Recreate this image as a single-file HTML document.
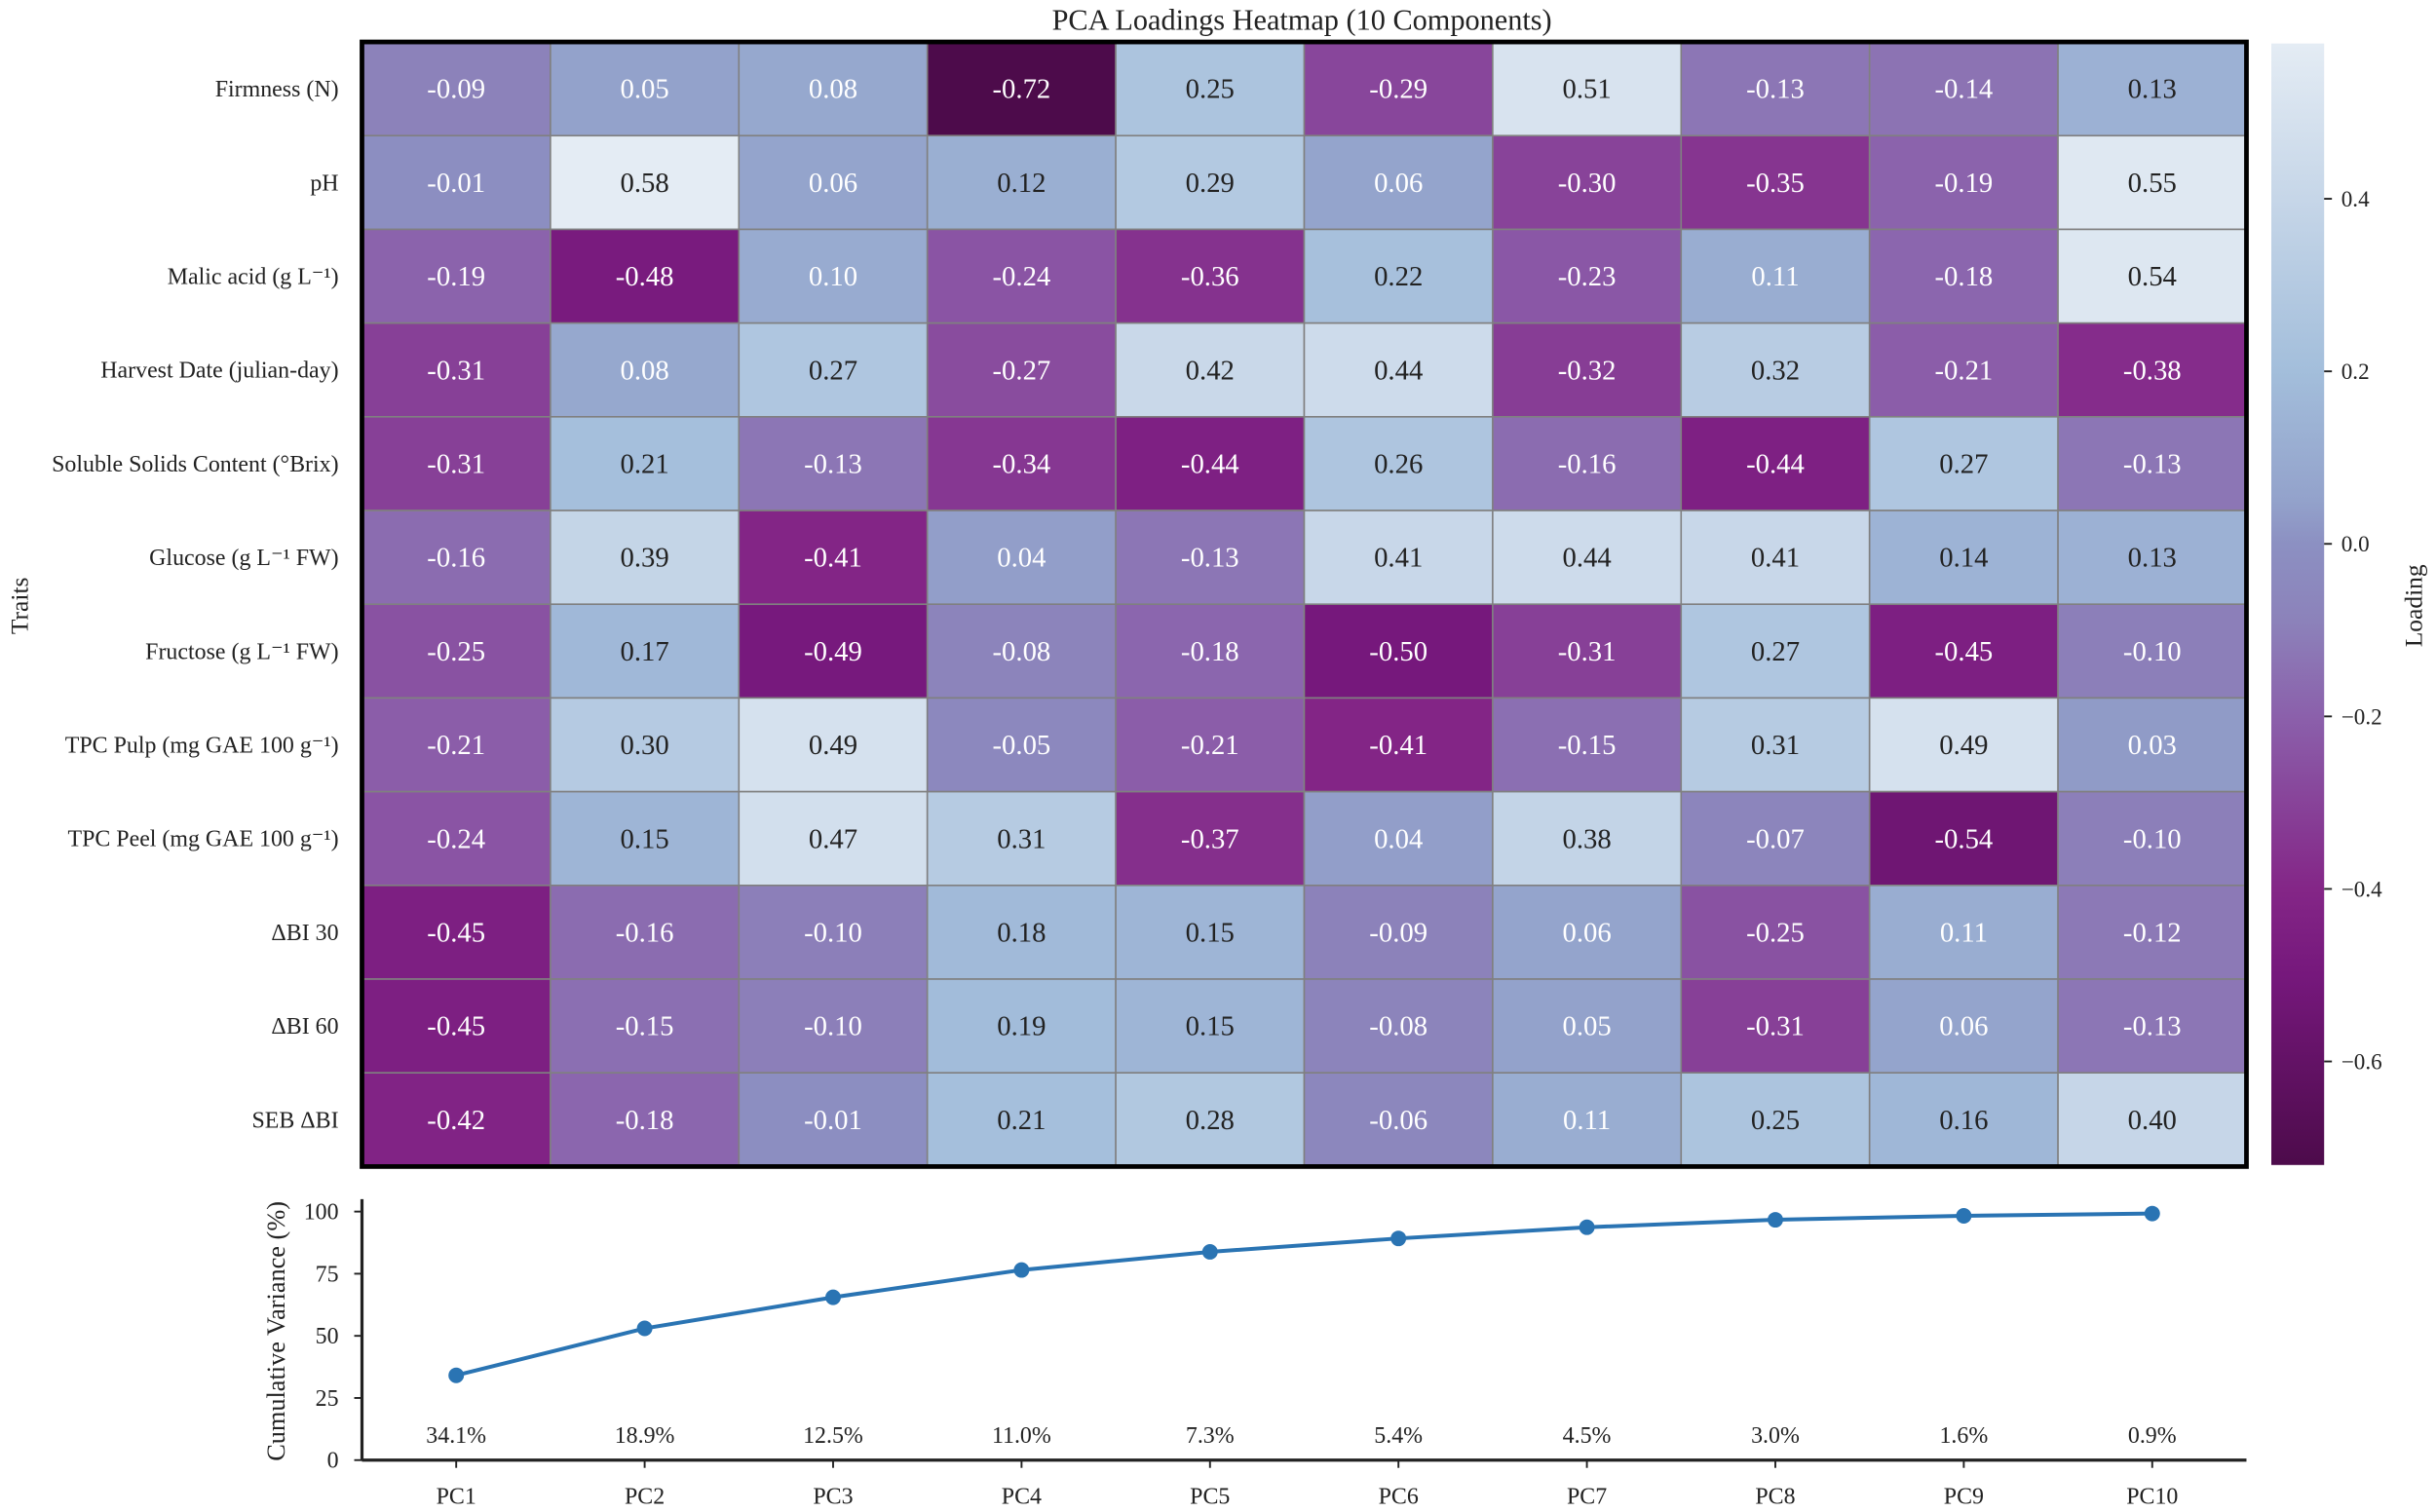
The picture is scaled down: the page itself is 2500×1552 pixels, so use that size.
<!DOCTYPE html>
<html><head><meta charset="utf-8"><style>
html,body{margin:0;padding:0;background:#fff;}
svg{display:block;font-family:"Liberation Serif",serif;}
</style></head><body>
<svg id="fig" width="2500" height="1552" viewBox="0 0 1568 973.4" xmlns="http://www.w3.org/2000/svg">
<rect width="1568" height="974" fill="#fff"/>
<text x="838" y="19" text-anchor="middle" font-size="19" fill="#222">PCA Loadings Heatmap (10 Components)</text>
<g id="heat"></g>
<g id="cbar"></g>
<g id="line"></g>
</svg>
<script>
const traits=["Firmness (N)","pH","Malic acid (g L\u207B\u00B9)","Harvest Date (julian-day)","Soluble Solids Content (\u00B0Brix)","Glucose (g L\u207B\u00B9 FW)","Fructose (g L\u207B\u00B9 FW)","TPC Pulp (mg GAE 100 g\u207B\u00B9)","TPC Peel (mg GAE 100 g\u207B\u00B9)","\u0394BI 30","\u0394BI 60","SEB \u0394BI"];
const components=["PC1","PC2","PC3","PC4","PC5","PC6","PC7","PC8","PC9","PC10"];
const loadings=[
[-0.09,0.05,0.08,-0.72,0.25,-0.29,0.51,-0.13,-0.14,0.13],
[-0.01,0.58,0.06,0.12,0.29,0.06,-0.30,-0.35,-0.19,0.55],
[-0.19,-0.48,0.10,-0.24,-0.36,0.22,-0.23,0.11,-0.18,0.54],
[-0.31,0.08,0.27,-0.27,0.42,0.44,-0.32,0.32,-0.21,-0.38],
[-0.31,0.21,-0.13,-0.34,-0.44,0.26,-0.16,-0.44,0.27,-0.13],
[-0.16,0.39,-0.41,0.04,-0.13,0.41,0.44,0.41,0.14,0.13],
[-0.25,0.17,-0.49,-0.08,-0.18,-0.50,-0.31,0.27,-0.45,-0.10],
[-0.21,0.30,0.49,-0.05,-0.21,-0.41,-0.15,0.31,0.49,0.03],
[-0.24,0.15,0.47,0.31,-0.37,0.04,0.38,-0.07,-0.54,-0.10],
[-0.45,-0.16,-0.10,0.18,0.15,-0.09,0.06,-0.25,0.11,-0.12],
[-0.45,-0.15,-0.10,0.19,0.15,-0.08,0.05,-0.31,0.06,-0.13],
[-0.42,-0.18,-0.01,0.21,0.28,-0.06,0.11,0.25,0.16,0.40]];
const explained=[34.1,18.9,12.5,11.0,7.3,5.4,4.5,3.0,1.6,0.9];
const cbTicks=[0.4,0.2,0.0,-0.2,-0.4,-0.6];
const cumTicks=[0,25,50,75,100];

const NS="http://www.w3.org/2000/svg";
function mk(tag,attrs,parent,txt){const e=document.createElementNS(NS,tag);for(const k in attrs)e.setAttribute(k,attrs[k]);if(txt!==undefined)e.textContent=txt;parent.appendChild(e);return e;}
const stops=[[-0.72,[77,11,75]],[-0.5,[118,24,124]],[-0.4,[132,38,135]],[-0.2,[139,96,171]],[-0.09,[140,130,186]],[0.0,[140,144,194]],[0.05,[147,162,203]],[0.2,[163,190,219]],[0.4,[198,214,232]],[0.58,[228,236,244]]];
function color(v){if(v<=stops[0][0])return 'rgb('+stops[0][1]+')';for(let i=1;i<stops.length;i++){if(v<=stops[i][0]){const a=stops[i-1],b=stops[i];const t=(v-a[0])/(b[0]-a[0]);return 'rgb('+a[1].map((c,j)=>Math.round(c+(b[1][j]-c)*t)).join(',')+')';}}return 'rgb('+stops[stops.length-1][1]+')';}
const vmin=-0.72,vmax=0.58;
const hx0=233,hx1=1446,hy0=27,hy1=751;
const cw=(hx1-hx0)/components.length,ch=(hy1-hy0)/traits.length;
const heat=document.getElementById('heat');
traits.forEach((t,r)=>{
  const lab=mk('text',{x:218,y:hy0+ch*(r+0.5)+5,'text-anchor':'end','font-size':15,fill:'#222'},heat,t);
  
  
  components.forEach((c,k)=>{
    const v=loadings[r][k];
    const rc=mk('rect',{x:hx0+cw*k,y:hy0+ch*r,width:cw,height:ch,fill:color(v),stroke:'#808080','stroke-width':1},heat);
    
    
    const tx=mk('text',{x:hx0+cw*(k+0.5),y:hy0+ch*(r+0.5)+6,'text-anchor':'middle','font-size':18,fill:(v<0.115?'#fff':'#222')},heat,v.toFixed(2));
    
    
  });
});
const hb=mk('rect',{x:hx0,y:hy0,width:hx1-hx0,height:hy1-hy0,fill:'none',stroke:'#000','stroke-width':3},heat);


const yt=mk('text',{x:0,y:0,transform:'translate(18,390) rotate(-90)','text-anchor':'middle','font-size':16,fill:'#222'},heat,'Traits');


const cb=document.getElementById('cbar');
const cx0=1462,cx1=1496,cy0=28,cy1=750;
const cbY=v=>cy1-(v-vmin)/(vmax-vmin)*(cy1-cy0);
const defs=mk('defs',{},cb);
const lg=mk('linearGradient',{id:'g',x1:0,y1:1,x2:0,y2:0},defs);
stops.forEach(s=>mk('stop',{offset:(s[0]-vmin)/(vmax-vmin),'stop-color':'rgb('+s[1]+')'},lg));
const cr=mk('rect',{x:cx0,y:cy0,width:cx1-cx0,height:cy1-cy0,fill:'url(#g)'},cb);


cbTicks.forEach(t=>{
  const y=cbY(t);
  mk('line',{x1:cx1,x2:cx1+5,y1:y,y2:y,stroke:'#222','stroke-width':1.2},cb);
  const l=mk('text',{x:cx1+11,y:y+5,'font-size':14.5,fill:'#222'},cb,t.toFixed(1).replace('-','\u2212'));
  
  
});
const cl=mk('text',{x:0,y:0,transform:'translate(1559,390) rotate(-90)','text-anchor':'middle','font-size':16,fill:'#222'},cb,'Loading');


const lc=document.getElementById('line');
const ly0=940,pxPer=1.6;
const ly=v=>ly0-v*pxPer;
const lx=i=>hx0+cw*(i+0.5);
mk('line',{x1:hx0,x2:hx0,y1:772,y2:ly0,stroke:'#222','stroke-width':2},lc);
mk('line',{x1:hx0,x2:hx1,y1:ly0,y2:ly0,stroke:'#222','stroke-width':2},lc);
cumTicks.forEach(t=>{
  mk('line',{x1:hx0-5,x2:hx0,y1:ly(t),y2:ly(t),stroke:'#222','stroke-width':1.2},lc);
  const l=mk('text',{x:218,y:ly(t)+5,'text-anchor':'end','font-size':15,fill:'#222'},lc,String(t));
  
  
});
const ylab=mk('text',{x:0,y:0,transform:'translate(183,857) rotate(-90)','text-anchor':'middle','font-size':16.5,fill:'#222'},lc,'Cumulative Variance (%)');


let cum=0;const pts=[];
explained.forEach((e,i)=>{cum+=e;pts.push([lx(i),ly(cum)]);});
const pl=mk('polyline',{points:pts.map(p=>p.join(',')).join(' '),fill:'none',stroke:'#2a74b3','stroke-width':2.5},lc);


pts.forEach((p,i)=>{
  const c=mk('circle',{cx:p[0],cy:p[1],r:5,fill:'#2a74b3'},lc);
  
  
  const pt=mk('text',{x:lx(i),y:929,'text-anchor':'middle','font-size':15,fill:'#222'},lc,explained[i].toFixed(1)+'%');
  
  
  mk('line',{x1:lx(i),x2:lx(i),y1:ly0,y2:ly0+5,stroke:'#222','stroke-width':1.2},lc);
  const xl=mk('text',{x:lx(i),y:968,'text-anchor':'middle','font-size':15,fill:'#222'},lc,components[i]);
  
  
});
</script>
</body></html>
